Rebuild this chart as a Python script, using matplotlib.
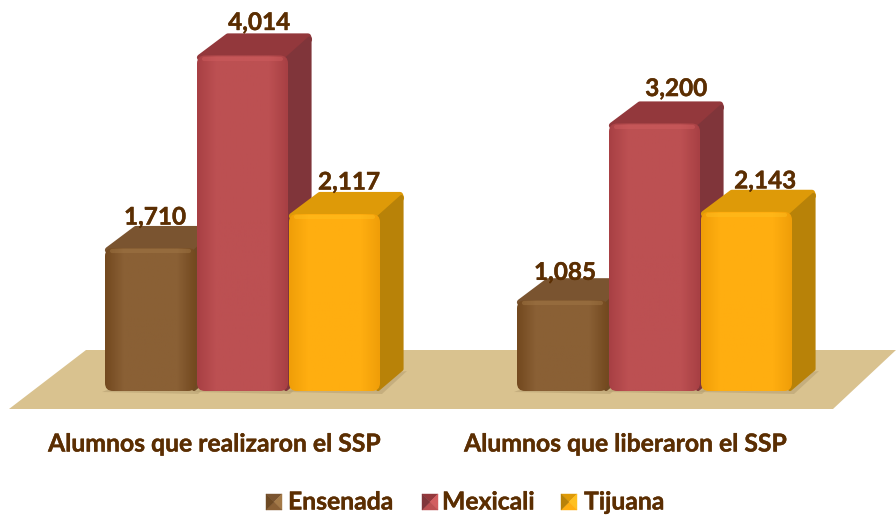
import numpy as np
import matplotlib
matplotlib.use('Agg')
import matplotlib.pyplot as plt
import matplotlib.patheffects as pe
from matplotlib.colors import LinearSegmentedColormap
from matplotlib.patches import FancyBboxPatch, Polygon

groups = ['Alumnos que realizaron el SSP', 'Alumnos que liberaron el SSP']
cities = ['Ensenada', 'Mexicali', 'Tijuana']
ensenada = [1710, 1085]
mexicali = [4014, 3200]
tijuana = [2117, 2143]

front_colors = ['#8A6035', '#BC5052', '#FFAE10']
edge_colors = ['#73491F', '#A84044', '#F09E08']
light_colors = ['#A47A48', '#D25E60', '#FFC020']
top_colors = ['#7A5430', '#93383C', '#DE9A08']
side_colors = ['#6E4A24', '#80353A', '#B88208']
text_color = '#5B2E02'

group_left = [105, 517]
label_shift = [[50, 62, 60], [48, 67, 64]]
label_lift = [[31, 33, 32], [28, 35, 31]]
bar_w = 91
bar_gap = 1
depth_x = 24
depth_y = 22
base_y = 391
px_per_unit = 335.5 / 4014
heavy = [pe.withStroke(linewidth=0.3, foreground=text_color)]

plt.rcParams['font.family'] = ['Lato', 'DejaVu Sans']

fig = plt.figure(figsize=(8.96, 5.17), dpi=100)
ax = fig.add_axes([0, 0, 1, 1])
ax.set_xlim(0, 896)
ax.set_ylim(517, 0)
ax.axis('off')

# floor
ax.add_patch(Polygon([(9, 409), (833, 409), (896, 350), (86, 350)], closed=True,
                     fc='#D9C28F', ec='none', zorder=1))


def draw_bar(x, value, c, z, shift, lift):
    top = base_y - value * px_per_unit
    r = x + bar_w
    # soft shadow on the floor
    ax.add_patch(Polygon([(x - 3, base_y + 1), (r + 2, base_y + 3),
                          (r + depth_x + 3, base_y - depth_y + 2),
                          (x + 20, base_y - 8)], closed=True,
                         fc='#B9A273', ec='none', alpha=0.6, zorder=z - 1))
    # top face, wide round edge gives the soft corners
    ax.add_patch(Polygon([(x + 3, top + 2), (x + depth_x + 7, top - depth_y + 3),
                          (r + depth_x - 4, top - depth_y + 3),
                          (r + depth_x - 3, top - depth_y + 6), (r, top + 6)],
                         closed=True, fc=top_colors[c], ec=top_colors[c], lw=4.5,
                         joinstyle='round', zorder=z))
    # side face
    ax.add_patch(Polygon([(r - 2, top + 4), (r + depth_x - 2.5, top - depth_y + 5),
                          (r + depth_x - 2.5, base_y - depth_y),
                          (r - 2, base_y - 2)],
                         closed=True, fc=side_colors[c], ec=side_colors[c], lw=3,
                         joinstyle='round', zorder=z))
    # front face, a little darker at both edges
    cmap = LinearSegmentedColormap.from_list('front', [edge_colors[c], front_colors[c],
                                                       front_colors[c], front_colors[c],
                                                       front_colors[c], edge_colors[c]])
    im = ax.imshow(np.linspace(0, 1, 64).reshape(1, -1), cmap=cmap, aspect='auto',
                   extent=(x, r, base_y, top), zorder=z + 1)
    box = FancyBboxPatch((x + 6, top + 6), bar_w - 12, base_y - top - 12,
                         boxstyle='round,pad=6,rounding_size=8',
                         fc='none', ec='none', transform=ax.transData, zorder=z + 1)
    ax.add_patch(box)
    im.set_clip_path(box)
    # light rim along the top edge of the front
    ax.plot([x + 7, r - 7], [top + 3, top + 3], color=light_colors[c], lw=3,
            alpha=0.45, solid_capstyle='round', zorder=z + 2)
    # value label
    ax.text(x + shift, top - lift, f'{value:,}', ha='center', va='center',
            fontsize=17.5, fontweight='bold', color=text_color, zorder=20, path_effects=heavy)
    ax.set_xlim(0, 896)
    ax.set_ylim(517, 0)


for g in range(len(groups)):
    values = [ensenada[g], mexicali[g], tijuana[g]]
    for c, value in enumerate(values):
        draw_bar(group_left[g] + c * (bar_w + bar_gap), value, c, 2 + c * 3,
                 label_shift[g][c], label_lift[g][c])

ax.text(214, 444, groups[0], ha='center', va='center', fontsize=17.8, fontweight='bold',
        color=text_color, path_effects=heavy)
ax.text(625, 444, groups[1], ha='center', va='center', fontsize=17.8, fontweight='bold',
        color=text_color, path_effects=heavy)

# legend
swatch_x = [266, 422, 561]
text_x = [288, 442, 584]
for c, city in enumerate(cities):
    x0 = swatch_x[c]
    y0 = 494
    s = 16
    mid = (x0 + s / 2, y0 + s / 2)
    corners = [(x0, y0), (x0 + s, y0), (x0 + s, y0 + s), (x0, y0 + s)]
    shades = [top_colors[c], light_colors[c], front_colors[c], side_colors[c]]
    for i in range(4):
        ax.add_patch(Polygon([corners[i], corners[(i + 1) % 4], mid], closed=True,
                             fc=shades[i], ec=shades[i], lw=0.3, zorder=5))
    ax.text(text_x[c], y0 + s / 2, city, ha='left', va='center', fontsize=17.8,
            fontweight='bold', color=text_color, path_effects=heavy)

fig.savefig('out.png', dpi=100)
